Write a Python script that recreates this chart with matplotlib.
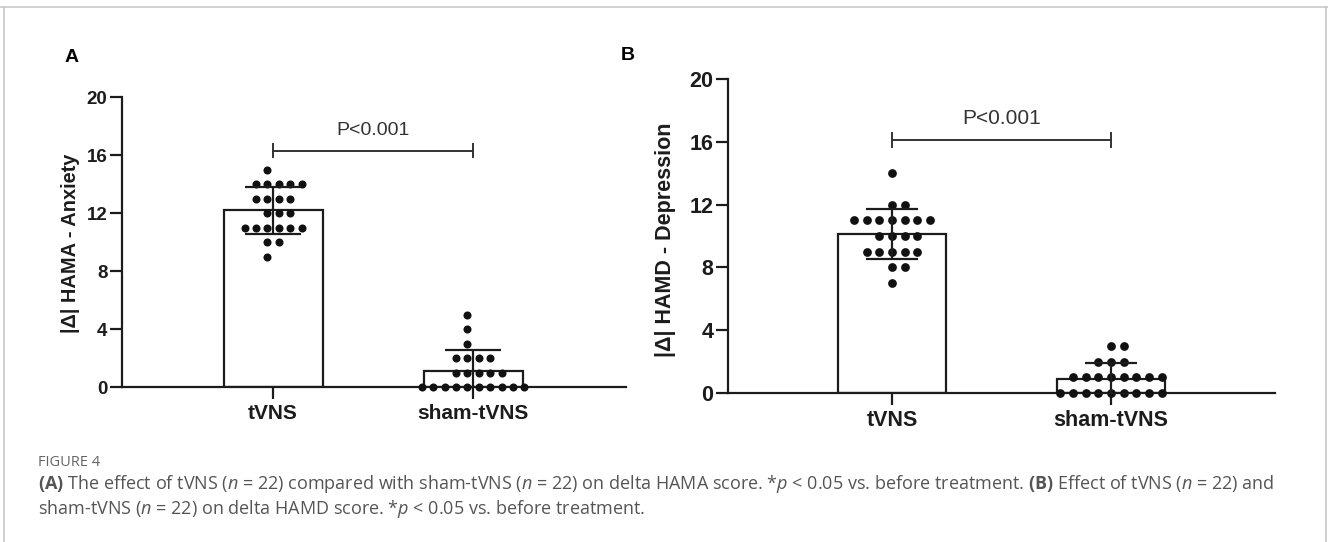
import numpy as np
import matplotlib
matplotlib.use("Agg")
import matplotlib.pyplot as plt
from matplotlib.lines import Line2D
from matplotlib.font_manager import FontProperties

# ---------------- data ----------------
groups = ["tVNS", "sham-tVNS"]
hama_tvns = [15, 14, 14, 14, 14, 14, 13, 13, 13, 13, 12, 12, 12,
             11, 11, 11, 11, 11, 11, 10, 10, 9]
hama_sham = [5, 4, 3, 2, 2, 2, 2, 1, 1, 1, 1, 1,
             0, 0, 0, 0, 0, 0, 0, 0, 0, 0]
hamd_tvns = [14, 12, 12, 11, 11, 11, 11, 11, 11, 11, 10, 10, 10, 10,
             9, 9, 9, 9, 9, 8, 8, 7]
hamd_sham = [3, 3, 2, 2, 2, 1, 1, 1, 1, 1, 1, 1, 1,
             0, 0, 0, 0, 0, 0, 0, 0, 0]
yticks = [0, 4, 8, 12, 16, 20]
p_text = "P<0.001"
ylabel_a = "|Δ| HAMA - Anxiety"
ylabel_b = "|Δ| HAMD - Depression"

W, H = 1328, 542
fig = plt.figure(figsize=(W / 100, H / 100), dpi=100)
fig.patch.set_facecolor("white")

plt.rcParams['mathtext.fontset'] = 'custom'
plt.rcParams['mathtext.rm'] = 'Open Sans'
plt.rcParams['mathtext.it'] = 'Open Sans:italic'
plt.rcParams['mathtext.bf'] = 'Open Sans:bold'

INK = "#1c1c1c"
BOLD = dict(family="Liberation Sans", weight="bold")


def offsets(values, spacing):
    vals = np.asarray(values, float)
    uniq = np.unique(vals)
    counts = {u: int((vals == u).sum()) for u in uniq}
    grid_even = max(counts.values()) % 2 == 0
    xs, ys = [], []
    for u in uniq:
        n = counts[u]
        off = np.arange(n) - (n - 1) / 2
        if (n % 2 == 0) != grid_even:
            off = off + (-0.5 if n == 1 else 0.5)
        xs.extend(off * spacing)
        ys.extend([u] * n)
    return np.array(xs), np.array(ys)


def panel(ax, data, fs_tick, fs_x, fs_p, ms, spacing, capsize, bar_y, txt_gap,
          xlim):
    means = [np.mean(d) for d in data]
    sds = [np.std(d, ddof=1) for d in data]
    pos = np.arange(len(data))
    ax.bar(pos, means, width=0.495, color="white", edgecolor=INK,
           linewidth=1.6, zorder=2)
    for i, d in enumerate(data):
        dx, dy = offsets(d, spacing)
        ax.plot(pos[i] + dx, dy, "o", ms=ms, color="#111111", mec="none",
                zorder=3, clip_on=False)
    ax.errorbar(pos, means, yerr=sds, fmt="none", ecolor=INK, elinewidth=1.6,
                capsize=capsize, capthick=1.6, zorder=4)
    ax.set_xlim(*xlim)
    ax.set_ylim(0, 20)
    ax.set_yticks(yticks)
    ax.set_xticks(pos)
    ax.set_xticklabels(groups)
    for s in ["top", "right"]:
        ax.spines[s].set_visible(False)
    for s in ["left", "bottom"]:
        ax.spines[s].set_linewidth(1.6)
        ax.spines[s].set_color(INK)
    ax.tick_params(axis="both", direction="out", length=8.5, width=1.6,
                   color=INK, pad=2)
    for t in ax.get_yticklabels():
        t.set_fontproperties(FontProperties(family="Liberation Sans",
                                            weight="bold", size=fs_tick))
        t.set_color(INK)
    for t in ax.get_xticklabels():
        t.set_fontproperties(FontProperties(family="Liberation Sans",
                                            weight="bold", size=fs_x))
        t.set_color(INK)
    ax.tick_params(axis="x", pad=4)
    # significance bracket
    cap = 0.45
    ax.plot([pos[0], pos[1]], [bar_y, bar_y], color="#333333", lw=1.4, zorder=5)
    for p in pos:
        ax.plot([p, p], [bar_y - cap, bar_y + cap], color="#333333", lw=1.4,
                zorder=5)
    ax.text(np.mean(pos), bar_y + txt_gap, p_text, ha="center", va="center",
            family="Liberation Sans", fontsize=fs_p, color="#333333")


axA = fig.add_axes([122 / W, 1 - 387 / H, (626 - 122) / W, (387 - 97) / H])
panel(axA, [hama_tvns, hama_sham], 13.5, 15, 14, 5.8, 0.057, 20, 16.3, 1.4,
      (-0.755, 1.765))
axB = fig.add_axes([728 / W, 1 - 393 / H, (1275 - 728) / W, (393 - 79) / H])
panel(axB, [hamd_tvns, hamd_sham], 15.5, 15.5, 15, 6.3, 0.058, 18.5, 16.1, 1.4,
      (-0.749, 1.749))

fig.text(70 / W, 1 - 243 / H, ylabel_a, rotation=90, ha="center", va="center",
         fontsize=14.4, color=INK, **BOLD)
fig.text(665 / W, 1 - 240 / H, ylabel_b, rotation=90, ha="center", va="center",
         fontsize=15.5, color=INK, **BOLD)

fig.text(72 / W, 1 - 57 / H, "A", ha="center", va="center", fontsize=14,
         color="black", **BOLD)
fig.text(628 / W, 1 - 55 / H, "B", ha="center", va="center", fontsize=14,
         color="black", **BOLD)

# caption
CAP = "#555555"
fig.text(38 / W, 1 - 462 / H, "FIGURE 4", ha="left", va="center",
         fontsize=10.5, color="#666666", family="Open Sans")
line1 = (r"$\mathbf{(A)}$ The effect of tVNS ($\mathit{n}$ = 22) compared with "
         r"sham-tVNS ($\mathit{n}$ = 22) on delta HAMA score. *$\mathit{p}$ < 0.05 "
         r"vs. before treatment. $\mathbf{(B)}$ Effect of tVNS ($\mathit{n}$ = 22) and")
line2 = (r"sham-tVNS ($\mathit{n}$ = 22) on delta HAMD score. *$\mathit{p}$ < 0.05 "
         r"vs. before treatment.")
fig.text(38 / W, 1 - 484 / H, line1, ha="left", va="center", fontsize=12.95,
         color=CAP, family="Open Sans")
fig.text(38 / W, 1 - 509 / H, line2, ha="left", va="center", fontsize=12.95,
         color=CAP, family="Open Sans")

# light frame
frame_c = "#c8c8c8"
fig.add_artist(Line2D([0, 1], [1 - 7 / H, 1 - 7 / H], transform=fig.transFigure,
                      color=frame_c, lw=1.2))
fig.add_artist(Line2D([4 / W, 4 / W], [0, 1 - 7 / H], transform=fig.transFigure,
                      color=frame_c, lw=1.2))
fig.add_artist(Line2D([1326 / W, 1326 / W], [0, 1 - 7 / H],
                      transform=fig.transFigure, color=frame_c, lw=1.2))

fig.savefig("out.png", dpi=100, facecolor="white")
